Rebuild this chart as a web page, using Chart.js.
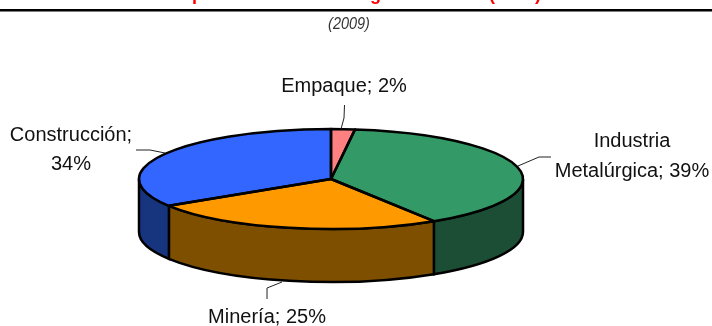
<!DOCTYPE html>
<html lang="es">
  <head>
    <meta charset="UTF-8" />
    <title>Aplicaciones (2009)</title>
    <script src="https://cdn.jsdelivr.net/npm/chart.js"></script>
    <style>
      html, body { margin: 0; background: #fff; }
      canvas { display: block; }
    </style>
  </head>
  <body>
    <canvas id="chart" width="712" height="326"></canvas>

    <script>
      // -------- data -------- //
      const categories = ["Empaque", "Industria Metalúrgica", "Minería", "Construcción"];
      const shares = [2, 39, 25, 34];

      const topColors = ["#ff8080", "#339966", "#ff9900", "#3366ff"];
      const wallColors = ["#803f3f", "#1c4e36", "#7f4f00", "#17357f"];

      const titleText = "Aplicación del Zinc Según Sectores (Perú)";
      const subtitleText = "(2009)";

      // label text lines, split as in the picture
      const labelLines = [
        ["Empaque; 2%"],
        ["Industria", "Metalúrgica; 39%"],
        ["Minería; 25%"],
        ["Construcción;", "34%"],
      ];

      // -------- layout -------- //
      const pie = { x: 331, y: 179, rx: 192, ry: 50, depth: 53 };
      const labelPos = [
        [{ x: 344, y: 92 }],
        [{ x: 632, y: 147 }, { x: 632, y: 177 }],
        [{ x: 267, y: 323 }],
        [{ x: 71, y: 141 }, { x: 71, y: 170 }],
      ];
      const leaders = [
        [[344.5, 105], [344, 118], [341, 129]],
        [[551, 157], [539, 157], [518, 166]],
        [[267, 299], [267, 288], [282, 282]],
        [[136, 150], [150, 150], [165, 153]],
      ];

      // -------- 3D look: squash the library's pie, add the side wall -------- //
      const tiltedPie = {
        id: "tiltedPie",
        beforeDatasetsDraw(chart) {
          const { ctx } = chart;
          const arcs = chart.getDatasetMeta(0).data;

          // side wall, only the part of each slice on the near half
          arcs.forEach((arc, i) => {
            const from = Math.max(arc.startAngle, 0);
            const to = Math.min(arc.endAngle, Math.PI);
            if (to <= from) return;
            ctx.beginPath();
            ctx.ellipse(pie.x, pie.y, pie.rx, pie.ry, 0, from, to);
            ctx.ellipse(pie.x, pie.y + pie.depth, pie.rx, pie.ry, 0, to, from, true);
            ctx.closePath();
            ctx.fillStyle = wallColors[i];
            ctx.fill();
            ctx.lineWidth = 2.5;
            ctx.strokeStyle = "#000";
            ctx.stroke();
          });

          const a = arcs[0];
          ctx.save();
          ctx.translate(pie.x, pie.y);
          ctx.scale(pie.rx / a.outerRadius, pie.ry / a.outerRadius);
          ctx.translate(-a.x, -a.y);
        },
        afterDatasetsDraw(chart) {
          const { ctx } = chart;
          ctx.restore();

          // outlines are stroked after the restore so the pen stays even
          chart.getDatasetMeta(0).data.forEach((arc) => {
            ctx.beginPath();
            ctx.moveTo(pie.x, pie.y);
            ctx.ellipse(pie.x, pie.y, pie.rx, pie.ry, 0, arc.startAngle, arc.endAngle);
            ctx.closePath();
            ctx.lineWidth = 2.5;
            ctx.lineJoin = "round";
            ctx.strokeStyle = "#000";
            ctx.stroke();
          });
        },
        afterDraw(chart) {
          const { ctx } = chart;
          ctx.save();

          // title is cut by the top edge, only the descenders show
          ctx.textAlign = "center";
          ctx.textBaseline = "alphabetic";
          ctx.fillStyle = "#ff0000";
          ctx.font = "bold 18px 'Liberation Sans'";
          ctx.fillText(titleText, 360, -0.5);

          ctx.fillStyle = "#000";
          ctx.fillRect(0, 9, 712, 2.5);

          // narrow italic, no condensed face installed so squeeze it
          ctx.save();
          ctx.translate(349, 29);
          ctx.scale(0.85, 1);
          ctx.fillStyle = "#333";
          ctx.font = "italic 17px 'Liberation Sans'";
          ctx.fillText(subtitleText, 0, 0);
          ctx.restore();

          // leader lines
          ctx.strokeStyle = "#222";
          ctx.lineWidth = 1;
          leaders.forEach((pts) => {
            ctx.beginPath();
            pts.forEach(([x, y], i) => (i ? ctx.lineTo(x, y) : ctx.moveTo(x, y)));
            ctx.stroke();
          });

          // slice labels
          ctx.fillStyle = "#111";
          ctx.font = "20px 'Liberation Sans'";
          labelLines.forEach((lines, i) => {
            lines.forEach((line, j) => ctx.fillText(line, labelPos[i][j].x, labelPos[i][j].y));
          });
          ctx.restore();
        },
      };

      new Chart(document.getElementById("chart"), {
        type: "pie",
        data: {
          labels: categories,
          datasets: [
            {
              data: shares,
              backgroundColor: topColors,
              borderWidth: 0,
              clip: false,
            },
          ],
        },
        options: {
          responsive: false,
          animation: false,
          plugins: {
            legend: { display: false },
            tooltip: { enabled: false },
          },
        },
        plugins: [tiltedPie],
      });
    </script>
  </body>
</html>
